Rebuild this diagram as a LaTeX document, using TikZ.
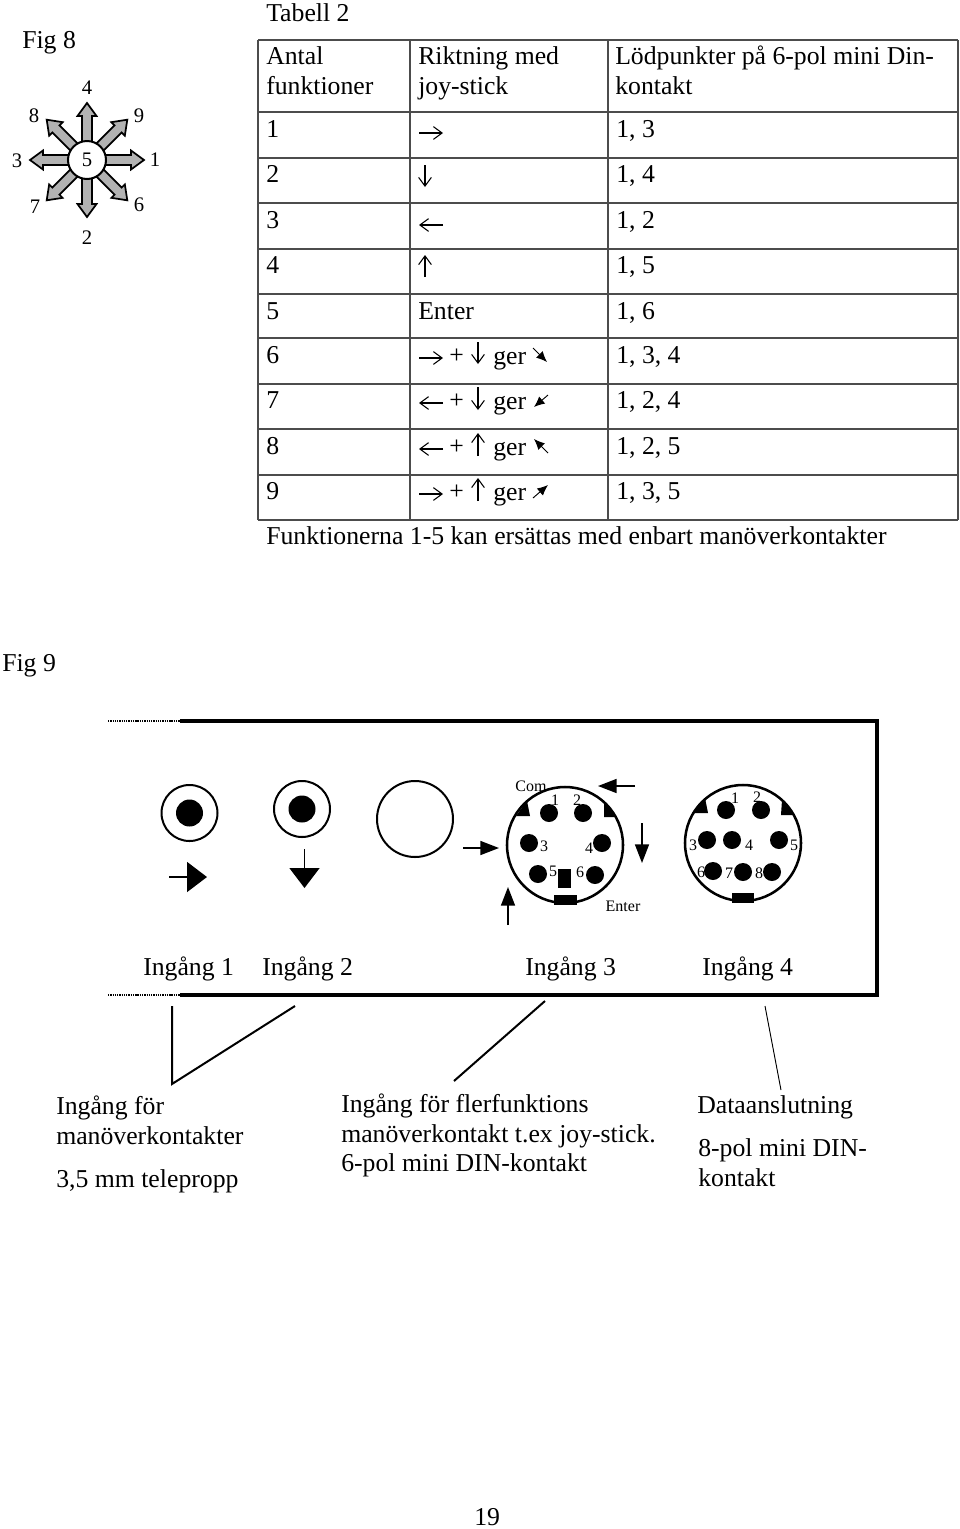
\documentclass[tikz,border=0pt]{standalone}
\usepackage{fontspec}
\setmainfont{Liberation Serif}
\usetikzlibrary{arrows.meta}
\tikzset{
	txt/.style={anchor=base west,inner sep=0pt,font=\fontsize{19.3pt}{23pt}\selectfont},
	num/.style={inner sep=0pt,font=\fontsize{15.5pt}{18pt}\selectfont},
	tiny/.style={inner sep=0pt,font=\fontsize{12pt}{14pt}\selectfont},
	grid/.style={line width=1.1pt,draw=black!70},
	hub/.style={circle,draw,line width=1.5pt,fill=white,minimum size=28.5pt,inner sep=0pt,font=\fontsize{15.5pt}{18pt}\selectfont},
	ray/.style={draw,line width=1.3pt,fill=black!30,line join=miter},
	thin arr/.style={line width=0.8pt,-{Straight Barb[length=6.5pt,width=9.5pt]}},
	diag arr/.style={line width=0.7pt,-{Latex[length=8pt,width=7pt]}},
	big arr/.style={line width=1.2pt,-{Triangle[length=15pt,width=22.5pt]}},
	small arr/.style={line width=1.2pt,-{Triangle[length=14pt,width=10.5pt]}},
	box/.style={line width=2.4pt},
	dots/.style={line width=1.6pt,dash pattern=on 1pt off 0.7pt},
	jack/.style={line width=1.5pt},
	din/.style={line width=1.9pt},
	leader/.style={line width=1.5pt}
}
\begin{document}
\begin{tikzpicture}[x=0.75pt,y=-0.75pt]
	\useasboundingbox (0,0) rectangle (960,1529);
	% Fig 8
	\node[txt] (fig8) at (22,48) {Fig 8};
	\foreach \ang in {0,45,...,315}{
		\begin{scope}[shift={(87,160)},rotate=\ang]
			\draw[ray] (15,-5) -- (44,-5) -- (44,-9.5) -- (57,0) -- (44,9.5) -- (44,5) -- (15,5) -- cycle;
		\end{scope}
	}
	\node[hub] (hub) at (87,160) {5};
	\foreach \nam/\x/\y in {1/155/160,2/87/238,3/17/161,4/87/88,6/139/205,7/35/207,8/34/116,9/139/116}{
		\node[num] (star\nam) at (\x,\y) {\nam};
	}
	% Tabell 2
	\node[txt] (tabcap) at (266,21) {Tabell 2};
	\foreach \y in {40,112,158,203,249,294,338,384,429,475,520}{
		\draw[grid] (258,\y) -- (958,\y);
	}
	\foreach \x in {258,410,608,958}{
		\draw[grid] (\x,40) -- (\x,520);
	}
	\node[txt] (h1a) at (266,64) {Antal};
	\node[txt] (h1b) at (266,94) {funktioner};
	\node[txt] (h2a) at (418,64) {Riktning med};
	\node[txt] (h2b) at (418,94) {joy-stick};
	\node[txt] (h3a) at (615,64) {Lödpunkter på 6-pol mini Din-};
	\node[txt] (h3b) at (615,94) {kontakt};
	\foreach \nam/\y/\pts in {1/137/{1, 3},2/182/{1, 4},3/228/{1, 2},4/273/{1, 5},5/319/{1, 6},6/363/{1, 3, 4},7/408/{1, 2, 4},8/454/{1, 2, 5},9/499/{1, 3, 5}}{
		\node[txt] (fn\nam) at (266,\y) {\nam};
		\node[txt] (pt\nam) at (616,\y) {\pts};
	}
	\node[txt] (enter) at (418,319) {Enter};
	\foreach \nam/\y in {6/363,7/408,8/454,9/499}{
		\node[txt] (plus\nam) at (449,\y) {+};
		\node[txt] (ger\nam) at (493,\y+1) {ger};
	}
	\draw[thin arr] (419,133) -- (443,133);
	\draw[thin arr] (425,165) -- (425,187);
	\draw[thin arr] (443,225) -- (419,225);
	\draw[thin arr] (425,277) -- (425,255);
	\draw[thin arr] (419,358) -- (443,358);
	\draw[thin arr] (478,342) -- (478,364);
	\draw[diag arr] (533,348) -- (547,362);
	\draw[thin arr] (443,403) -- (419,403);
	\draw[thin arr] (478,387) -- (478,410);
	\draw[diag arr] (548,395) -- (534,407);
	\draw[thin arr] (443,449) -- (419,449);
	\draw[thin arr] (478,456) -- (478,433);
	\draw[diag arr] (548,453) -- (534,439);
	\draw[thin arr] (419,494) -- (443,494);
	\draw[thin arr] (478,501) -- (478,478);
	\draw[diag arr] (533,498) -- (548,485);
	\node[txt] (tabnote) at (266,544) {Funktionerna 1-5 kan ersättas med enbart manöverkontakter};
	% Fig 9
	\node[txt] (fig9) at (2,671) {Fig 9};
	\coordinate (ta) at (108,721);
	\coordinate (tb) at (180,721);
	\coordinate (tc) at (877,721);
	\coordinate (bc) at (877,995);
	\coordinate (bb) at (180,995);
	\coordinate (ba) at (108,995);
	\draw[dots] (ta) -- (tb);
	\draw[dots] (ba) -- (bb);
	\draw[box] (tb) -- (tc) -- (bc) -- (bb);
	% teleproppar
	\draw[jack] (189.5,813) circle (28);
	\fill (189.5,813) circle (13.5);
	\draw[jack] (302,809) circle (28);
	\fill (302,809) circle (13.5);
	\draw[jack] (415,819) circle (38);
	\draw[big arr] (169,877) -- (207,877);
	\draw[big arr] (304.5,849) -- (304.5,888);
	% 6-pol
	\draw[din] (565,845) circle (58);
	\foreach \x/\y in {549/813,583/813,529/843,602/843,538/874,595/875}{
		\fill (\x,\y) circle (9);
	}
	\fill (558,869) rectangle (571,888);
	\fill (554,895) rectangle (577,905);
	\fill (516,816) -- (530,816) -- (527,801) -- cycle;
	\fill (604,803) -- (604,817) -- (617,817) -- cycle;
	\foreach \nam/\x/\y in {1/555/800,2/577/800,3/544/846,4/589/848,5/553/871,6/580/872}{
		\node[tiny] (sex\nam) at (\x,\y) {\nam};
	}
	\node[tiny] (com) at (531,786) {Com};
	\node[tiny] (enterpin) at (623,906) {Enter};
	\draw[small arr] (463,848) -- (499,848);
	\draw[small arr] (635,786) -- (598,786);
	\draw[small arr] (642,823) -- (642,863);
	\draw[small arr] (508,925) -- (508,887);
	% 8-pol
	\draw[din] (743,843) circle (58);
	\foreach \x/\y in {726/810,761/810,707/840,732/840,779/840,713/871,743/872,772/872}{
		\fill (\x,\y) circle (9);
	}
	\fill (732,893) rectangle (754,903);
	\fill (692,813) -- (708,813) -- (705,798) -- cycle;
	\fill (782,800) -- (781,815) -- (795,815) -- cycle;
	\foreach \nam/\x/\y in {1/735/798,2/757/797,3/693/845,4/749/845,5/794/845,6/701/872,7/729/873,8/759/873}{
		\node[tiny] (atta\nam) at (\x,\y) {\nam};
	}
	\node[txt] (in1) at (143,975) {Ingång 1};
	\node[txt] (in2) at (262,975) {Ingång 2};
	\node[txt] (in3) at (525,975) {Ingång 3};
	\node[txt] (in4) at (702,975) {Ingång 4};
	% ledare
	\coordinate (la) at (172,1006);
	\coordinate (lb) at (172,1084);
	\coordinate (lc) at (295,1006);
	\coordinate (ld) at (454,1081);
	\coordinate (le) at (545,1001);
	\coordinate (lf) at (765,1006);
	\coordinate (lg) at (781,1090);
	\draw[leader] (la) -- (lb) -- (lc);
	\draw[leader] (ld) -- (le);
	\draw[line width=0.7pt] (lf) -- (lg);
	\node[txt] (ta1) at (56,1114) {Ingång för};
	\node[txt] (ta2) at (56,1144) {manöverkontakter};
	\node[txt] (ta3) at (56,1187) {3,5 mm telepropp};
	\node[txt] (tb1) at (341,1112) {Ingång för flerfunktions};
	\node[txt] (tb2) at (341,1142) {manöverkontakt t.ex joy-stick.};
	\node[txt] (tb3) at (341,1171) {6-pol mini DIN-kontakt};
	\node[txt] (tc1) at (697,1113) {Dataanslutning};
	\node[txt] (tc2) at (698,1156) {8-pol mini DIN-};
	\node[txt] (tc3) at (698,1186) {kontakt};
	\node[txt] (page) at (474,1525) {19};
\end{tikzpicture}
\end{document}
